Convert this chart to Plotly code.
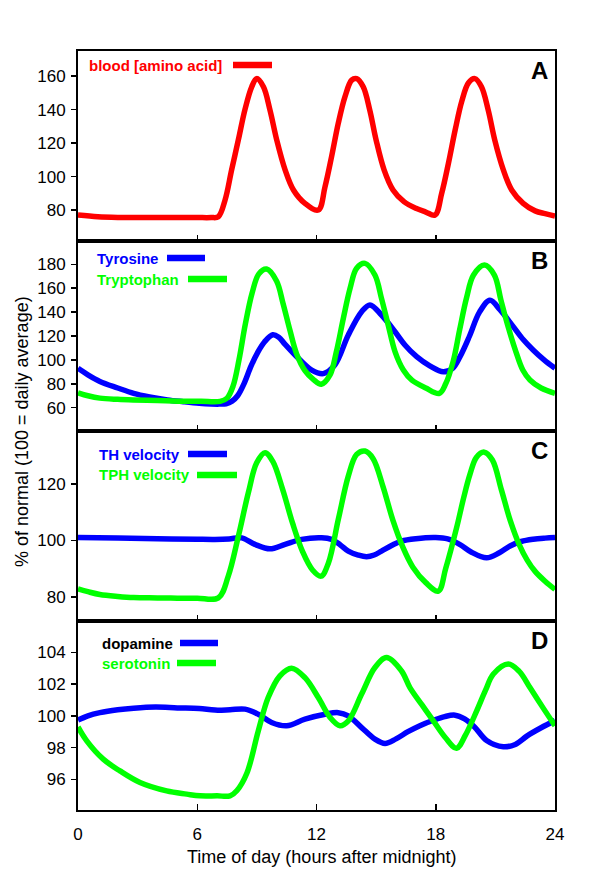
import plotly.graph_objects as go

# ---------------- data (hours after midnight, % of normal) ----------------
blood_h = [0, 1, 2, 3, 4, 5, 6, 6.7, 7.06, 7.4, 7.73, 8.07, 8.4, 8.74, 8.99, 9.33, 9.66, 10.0,
           10.42, 10.84, 11.42, 12.09, 12.43, 12.76, 13.1, 13.43, 13.77, 14.02, 14.35, 14.68,
           15.0, 15.4, 15.85, 16.4, 17.0, 17.5, 17.96, 18.3, 18.64, 18.98, 19.31, 19.65, 19.97,
           20.3, 20.64, 20.97, 21.4, 21.82, 22.4, 23.0, 23.5, 24]
blood_v = [77, 76, 75.6, 75.5, 75.5, 75.5, 75.5, 75.5, 76, 86, 104, 122, 140, 153.6, 158.5,
           153.6, 139.7, 121.8, 104, 92, 84, 80, 94, 112, 132, 147.6, 157.6, 158.5, 153.6,
           139.7, 121.8, 104, 92, 85, 81, 78.8, 77, 90, 108, 128, 145, 156, 158.5, 153.6,
           139.7, 121.8, 104, 92, 84, 79.5, 77.8, 76.4]

tyr_h = [0, 0.5, 1.1, 2.0, 2.8, 3.6, 4.5, 5.3, 6.1, 6.7, 7.1, 7.45, 7.75, 8.03, 8.35, 8.71,
         9.05, 9.38, 9.8, 10.1, 10.42, 11.09, 11.76, 12.34, 12.92, 13.6, 14.27, 14.69, 15.27,
         15.95, 16.45, 17.04, 17.7, 18.38, 18.85, 19.22, 19.7, 20.2, 20.73, 21.23, 21.9, 22.4,
         22.9, 23.45, 24]
tyr_v = [93, 87.5, 82, 76.5, 72, 69, 66.5, 65, 63.7, 63.1, 63, 63.3, 65.5, 70, 80, 95, 106.5,
         115, 121, 119, 113, 101.3, 91.5, 88.5, 95.7, 120.8, 140.3, 146, 137.6, 123.6, 112.5,
         102.7, 95, 90, 93, 102.7, 120, 140, 150, 142, 127.8, 117, 108.3, 100, 93]

trp_h = [0, 0.5, 1.1, 2.0, 2.8, 4, 5, 6.2, 7.15, 7.5, 7.8, 8.1, 8.42, 8.76, 9.1, 9.49, 9.99,
         10.32, 10.66, 11.0, 11.42, 11.85, 12.24, 12.68, 13.0, 13.35, 13.69, 14.02, 14.44,
         14.94, 15.27, 15.61, 15.95, 16.37, 16.8, 17.5, 18.18, 18.5, 18.88, 19.2, 19.55, 19.9,
         20.45, 20.95, 21.28, 21.62, 22.03, 22.38, 22.74, 23.3, 24]
trp_v = [72.5, 70, 68, 67, 66.5, 66, 65.5, 65.3, 65.3, 68, 78, 100, 130, 156, 172, 176, 166,
         147, 125, 105, 91, 83.5, 79.6, 87.4, 106.9, 134.8, 159.9, 176.7, 180.8, 171, 151.5,
         129, 106.9, 91.5, 83, 76.5, 72, 80, 99, 125, 152, 171, 179.4, 171, 150, 129, 107,
         91.5, 83.2, 76.5, 72]

th_h = [0, 2, 4, 6, 6.89, 7.6, 8.24, 8.9, 9.66, 10.42, 11.25, 12.26, 12.76, 13.2, 13.6, 14.1,
        14.52, 14.9, 15.27, 15.8, 16.27, 17.0, 18.0, 18.6, 19.2, 19.8, 20.56, 21.2, 21.74,
        22.3, 22.9, 23.5, 24]
th_v = [101, 100.8, 100.6, 100.4, 100.35, 100.5, 100.9, 98.6, 97.0, 98.6, 100.35, 100.9,
        100.35, 98.4, 96.2, 94.8, 94.2, 94.8, 96.2, 98.3, 99.75, 100.6, 101, 100.5, 98.6,
        95.8, 93.8, 95.6, 98, 99.6, 100.4, 100.8, 101]

tph_h = [0, 0.5, 1.1, 2, 2.8, 4, 5, 6, 7.06, 7.56, 8.07, 8.57, 8.99, 9.41, 9.8, 10.3, 10.8,
         11.3, 11.8, 12.23, 12.6, 13.1, 13.6, 14.02, 14.44, 14.85, 15.35, 15.85, 16.35,
         16.85, 17.5, 18.13, 18.5, 19.05, 19.4, 19.72, 20.05, 20.44, 20.85, 21.3, 21.75,
         22.2, 22.6, 23.0, 23.5, 24]
tph_v = [82.8, 81.8, 80.8, 80.1, 79.7, 79.6, 79.5, 79.5, 79.6, 87.3, 101.5, 116.9, 127.5,
         131.1, 128, 118, 106, 96, 89.5, 87.3, 92, 107.5, 122.8, 130.5, 131.7, 129, 119,
         107, 97.5, 90.5, 85, 82, 90, 104.5, 115, 123.4, 129.5, 131.3, 128.5, 118, 107,
         98.5, 93, 89, 85.5, 82.6]

da_h = [0, 0.5, 1.1, 2, 2.8, 3.9, 5, 6.1, 6.89, 7.65, 8.4, 9.07, 9.74, 10.5, 11.42, 12.43,
        13.1, 13.6, 14.27, 14.94, 15.45, 16.0, 16.6, 17.2, 17.88, 18.45, 18.97, 19.45, 19.95,
        20.56, 21.4, 22.0, 22.6, 23.3, 24]
da_v = [99.73, 100.0, 100.2, 100.38, 100.48, 100.55, 100.5, 100.46, 100.36, 100.38, 100.42,
        100.1, 99.58, 99.37, 99.79, 100.1, 100.2, 100.0, 99.26, 98.53, 98.26, 98.55, 99.0,
        99.38, 99.72, 99.95, 100.04, 99.8, 99.3, 98.45, 98.05, 98.2, 98.74, 99.25, 99.7]

ht_h = [0, 0.44, 1.27, 2.11, 3.12, 4.46, 5.47, 6.14, 7.0, 7.65, 8.0, 8.5, 9.07, 9.57, 10.16,
        10.75, 11.42, 12.09, 12.68, 13.18, 13.6, 14.27, 14.94, 15.53, 16.27, 16.7, 17.3,
        17.88, 18.5, 19.05, 19.5, 20.06, 20.5, 20.9, 21.65, 22.2, 22.74, 23.4, 24]
ht_v = [99.3, 98.42, 97.27, 96.53, 95.8, 95.27, 95.07, 94.96, 94.96, 94.96, 95.3, 96.4, 99.05,
        101.15, 102.52, 103.0, 102.4, 101.15, 99.9, 99.37, 99.68, 101.37, 103.04, 103.67,
        102.84, 101.78, 100.7, 99.68, 98.6, 97.96, 98.8, 100.31, 101.6, 102.63, 103.26,
        102.8, 101.78, 100.5, 99.37]

x_ticks = [0, 6, 12, 18, 24]
ticks_a = [80, 100, 120, 140, 160]
ticks_b = [60, 80, 100, 120, 140, 160, 180]
ticks_c = [80, 100, 120]
ticks_d = [96, 98, 100, 102, 104]

RED = "#FF0000"
BLUE = "#0000FF"
GREEN = "#00FF00"
FONT = "Arial, Liberation Sans, sans-serif"

# ---------------- layout geometry (pixels) ----------------
W, H = 600, 872
PL, PR, PT, PB = 78, 555, 51, 810
panel_edges = [51, 241, 431, 621, 810]


def px(x):
    return (x - PL) / (PR - PL)


def py(y):
    return (PB - y) / (PB - PT)


fig = go.Figure()
LW = 5.5
series = [
    (blood_h, blood_v, RED, 1),
    (tyr_h, tyr_v, BLUE, 2),
    (trp_h, trp_v, GREEN, 2),
    (th_h, th_v, BLUE, 3),
    (tph_h, tph_v, GREEN, 3),
    (da_h, da_v, BLUE, 4),
    (ht_h, ht_v, GREEN, 4),
]
for hx, vy, col, k in series:
    sfx = "" if k == 1 else str(k)
    fig.add_trace(go.Scatter(x=hx, y=vy, mode="lines",
                             line=dict(color=col, width=LW, shape="spline", smoothing=1.0),
                             xaxis="x" + sfx, yaxis="y" + sfx, showlegend=False,
                             hoverinfo="skip"))

ranges = [[61.5, 175], [40.5, 199.5], [71.4, 138.8], [94.07, 105.97]]
tickvals = [ticks_a, ticks_b, ticks_c, ticks_d]
layout = dict(
    width=W, height=H, autosize=False,
    margin=dict(l=PL, r=W - PR, t=PT, b=H - PB, pad=0, autoexpand=False),
    paper_bgcolor="white", plot_bgcolor="white",
    font=dict(family=FONT, size=17, color="black"),
    showlegend=False,
)
for i in range(4):
    k = i + 1
    sfx = "" if k == 1 else str(k)
    top, bot = panel_edges[i], panel_edges[i + 1]
    dom = [py(bot), py(top)]
    layout["yaxis" + sfx] = dict(
        domain=dom, range=ranges[i], tickvals=tickvals[i], ticks="outside", ticklen=5,
        tickwidth=1.5, tickcolor="black", showline=True, linecolor="black", linewidth=2,
        mirror=True, showgrid=False, zeroline=False, anchor="x" + sfx, automargin=False,
        tickfont=dict(size=17, family=FONT), ticklabelstandoff=2,
    )
    xa = dict(
        range=[0, 24], tickvals=x_ticks, ticks="inside", ticklen=6, tickwidth=1.5,
        tickcolor="black", showline=True, linecolor="black", linewidth=2, mirror=True,
        showgrid=False, zeroline=False, anchor="y" + sfx, domain=[0, 1], automargin=False,
        showticklabels=(k == 4), tickfont=dict(size=17, family=FONT),
    )
    if k == 4:
        xa["ticklabelstandoff"] = 8
    else:
        xa["matches"] = "x4"
    layout["xaxis" + sfx] = xa

fig.update_layout(**layout)

ann = []
shapes = []
# axis titles
ann.append(dict(text="% of normal (100 = daily average)", x=px(22), y=py(432),
                xref="paper", yref="paper", showarrow=False, textangle=-90,
                font=dict(size=18, family=FONT, color="black"),
                xanchor="center", yanchor="middle"))
ann.append(dict(text="Time of day (hours after midnight)", x=px(321), y=py(857),
                xref="paper", yref="paper", showarrow=False,
                font=dict(size=18, family=FONT, color="black"),
                xanchor="center", yanchor="middle"))
# panel letters
for letter, top in zip("ABCD", panel_edges[:4]):
    ann.append(dict(text="<b>%s</b>" % letter, x=px(550), y=py(top + 19.5),
                    xref="paper", yref="paper", showarrow=False, xanchor="right",
                    yanchor="middle", font=dict(size=24, family=FONT, color="black")))

# legend entries: (text, text colour, text x, y, line x0, line x1, line colour)
legend_items = [
    ("blood [amino acid]", RED, 87, 65, 233, 272, RED),
    ("Tyrosine", BLUE, 95, 258, 167, 205, BLUE),
    ("Tryptophan", GREEN, 95, 279, 188, 227, GREEN),
    ("TH velocity", BLUE, 97, 454, 188, 227, BLUE),
    ("TPH velocity", GREEN, 97, 475, 197, 237, GREEN),
    ("dopamine", "black", 100, 643, 180, 218, BLUE),
    ("serotonin", GREEN, 100, 663, 177, 216, GREEN),
]
for txt, tc, tx, ty, lx0, lx1, lc in legend_items:
    ann.append(dict(text="<b>%s</b>" % txt, x=px(tx), y=py(ty), xref="paper", yref="paper",
                    showarrow=False, xanchor="left", yanchor="middle",
                    font=dict(size=15, family=FONT, color=tc)))
    shapes.append(dict(type="line", xref="paper", yref="paper", x0=px(lx0), x1=px(lx1),
                       y0=py(ty), y1=py(ty), line=dict(color=lc, width=6.5)))

fig.update_layout(annotations=ann, shapes=shapes)
fig.write_html("out.html", config={"displayModeBar": False, "staticPlot": True},
               post_script="document.body.style.margin='0';document.body.style.padding='0';")
